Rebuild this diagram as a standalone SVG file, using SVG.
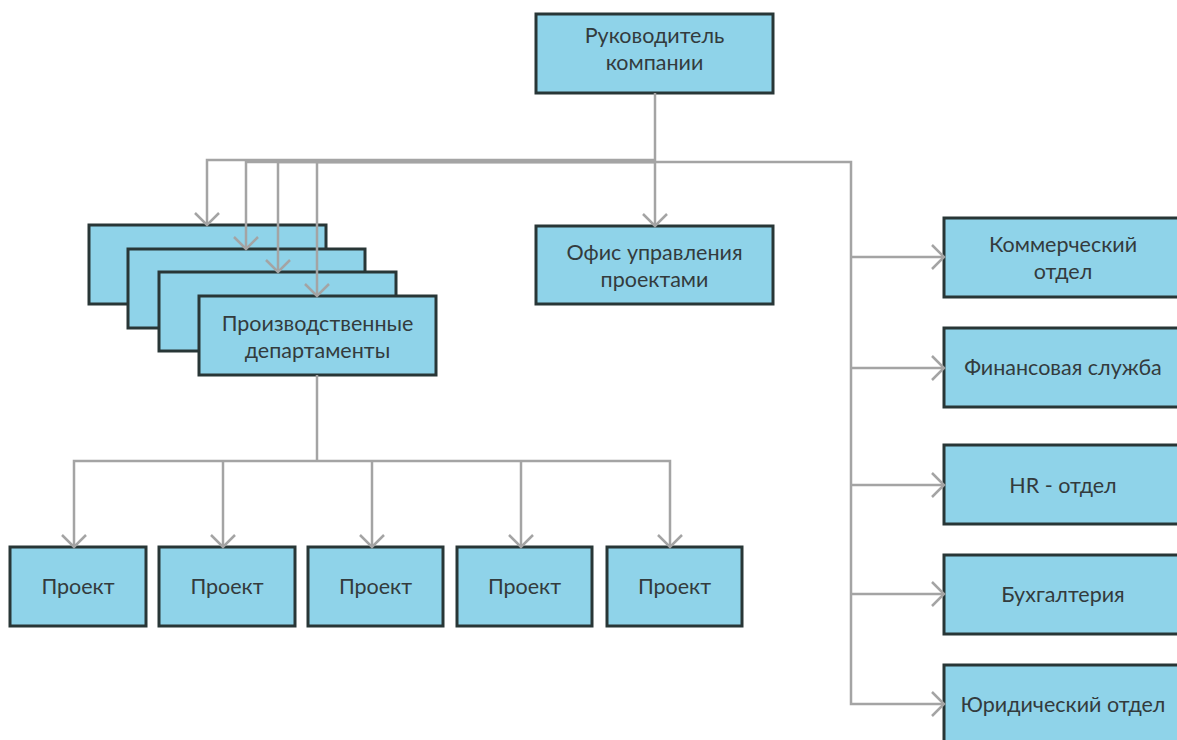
<svg xmlns="http://www.w3.org/2000/svg" width="1177" height="740" viewBox="0 0 1177 740">
<defs>
<style>
.box{fill:#8fd3e9;stroke:#283636;stroke-width:3}
.t{font-family:Lato,"Open Sans","Liberation Sans",sans-serif;font-size:21.5px;fill:#333b3d;text-anchor:middle}
.c{fill:none;stroke:#a4a4a4;stroke-width:2.5}
</style>
<marker id="ah" markerUnits="userSpaceOnUse" markerWidth="30" markerHeight="30" viewBox="-15 -15 30 30" refX="0" refY="0" orient="auto">
<path d="M-12,-12 L0,0 L-12,12" fill="none" stroke="#a4a4a4" stroke-width="2.5"/>
</marker>
</defs>
<rect width="1177" height="740" fill="#ffffff"/>
<g id="n-head"><rect class="box" x="536" y="14" width="237" height="79"/><text class="t" x="654.5" y="43">Руководитель</text><text class="t" x="654.5" y="70">компании</text></g>
<g id="n-office"><rect class="box" x="536" y="226" width="237" height="78"/><text class="t" x="654.5" y="260">Офис управления</text><text class="t" x="654.5" y="287">проектами</text></g>
<g id="n-dep1"><rect class="box" x="89" y="225" width="237" height="79"/></g>
<g id="n-dep2"><rect class="box" x="128" y="249" width="237" height="79"/></g>
<g id="n-dep3"><rect class="box" x="159" y="272" width="237" height="79"/></g>
<g id="n-dep4"><rect class="box" x="199" y="296" width="237" height="79"/><text class="t" x="317.5" y="331">Производственные</text><text class="t" x="317.5" y="358">департаменты</text></g>
<g id="n-p1"><rect class="box" x="10" y="547" width="136" height="79"/><text class="t" x="78" y="594">Проект</text></g>
<g id="n-p2"><rect class="box" x="159" y="547" width="136" height="79"/><text class="t" x="227" y="594">Проект</text></g>
<g id="n-p3"><rect class="box" x="308" y="547" width="135" height="79"/><text class="t" x="375.5" y="594">Проект</text></g>
<g id="n-p4"><rect class="box" x="457" y="547" width="135" height="79"/><text class="t" x="524.5" y="594">Проект</text></g>
<g id="n-p5"><rect class="box" x="607" y="547" width="135" height="79"/><text class="t" x="674.5" y="594">Проект</text></g>
<g id="n-com"><rect class="box" x="944" y="218" width="238" height="79"/><text class="t" x="1063" y="252">Коммерческий</text><text class="t" x="1063" y="279">отдел</text></g>
<g id="n-fin"><rect class="box" x="944" y="328" width="238" height="79"/><text class="t" x="1063" y="375">Финансовая служба</text></g>
<g id="n-hr"><rect class="box" x="944" y="445" width="238" height="79"/><text class="t" x="1063" y="493">HR - отдел</text></g>
<g id="n-acc"><rect class="box" x="944" y="555" width="238" height="79"/><text class="t" x="1063" y="602">Бухгалтерия</text></g>
<g id="n-law"><rect class="box" x="944" y="665" width="238" height="79"/><text class="t" x="1063" y="712">Юридический отдел</text></g>
<g id="connectors">
<path class="c" d="M655,93 V226" marker-end="url(#ah)"/>
<path class="c" d="M655,160 H207 V225" marker-end="url(#ah)"/>
<path class="c" d="M655,162 H246 V249" marker-end="url(#ah)"/>
<path class="c" d="M655,162 H278 V272" marker-end="url(#ah)"/>
<path class="c" d="M655,162 H317 V296" marker-end="url(#ah)"/>
<path class="c" d="M655,162 H851 V704 H944" marker-end="url(#ah)"/>
<path class="c" d="M851,257 H944" marker-end="url(#ah)"/>
<path class="c" d="M851,368 H944" marker-end="url(#ah)"/>
<path class="c" d="M851,485 H944" marker-end="url(#ah)"/>
<path class="c" d="M851,594 H944" marker-end="url(#ah)"/>
<path class="c" d="M317,375 V461"/>
<path class="c" d="M317,461 H74 V547" marker-end="url(#ah)"/>
<path class="c" d="M223,461 V547" marker-end="url(#ah)"/>
<path class="c" d="M372,461 V547" marker-end="url(#ah)"/>
<path class="c" d="M317,461 H670 V547" marker-end="url(#ah)"/>
<path class="c" d="M521,461 V547" marker-end="url(#ah)"/>
</g>
</svg>
